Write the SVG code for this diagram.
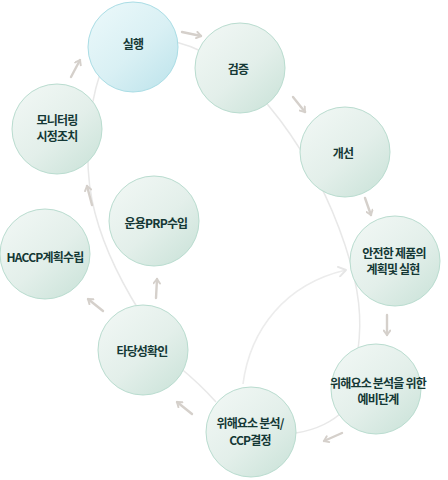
<svg xmlns="http://www.w3.org/2000/svg" width="448" height="480" viewBox="0 0 448 480">
<defs>
<linearGradient id="gg" x1="0.15" y1="0.1" x2="0.85" y2="0.9">
<stop offset="0" stop-color="#eff6f3"/>
<stop offset="0.55" stop-color="#e3efea"/>
<stop offset="1" stop-color="#cfe5dc"/>
</linearGradient>
<linearGradient id="gb" x1="0.15" y1="0.1" x2="0.85" y2="0.9">
<stop offset="0" stop-color="#e8f7f9"/>
<stop offset="0.55" stop-color="#d9f0f4"/>
<stop offset="1" stop-color="#c3e6ed"/>
</linearGradient>
<marker id="ah" viewBox="0 0 10 10" refX="8" refY="5" markerUnits="userSpaceOnUse" markerWidth="8" markerHeight="8" orient="auto">
<path d="M2.5,1 L8,5 L2.5,9" fill="none" stroke="#d5d0cb" stroke-width="2.4" stroke-linecap="round" stroke-linejoin="round"/>
</marker>
<marker id="ah2" viewBox="0 0 10 10" refX="8" refY="5" markerUnits="userSpaceOnUse" markerWidth="12" markerHeight="12" orient="auto">
<path d="M2,1 L8,5 L2,9" fill="none" stroke="#e6e6e6" stroke-width="1.6" stroke-linecap="round" stroke-linejoin="round"/>
</marker>
</defs>
<style>
.n circle{fill:url(#gg);stroke:#b9dccf;stroke-width:1}
.nb circle{fill:url(#gb);stroke:#aadde5;stroke-width:1}
text{font-family:"Noto Sans CJK KR","Noto Sans",sans-serif;font-weight:bold;font-size:12px;fill:#143835;text-anchor:middle;letter-spacing:-0.8px}
.ring{fill:none;stroke:#e8e8e8;stroke-width:1.5}
.ar{fill:none;stroke:#d5d0cb;stroke-width:2.4;stroke-linecap:round;marker-end:url(#ah)}
</style>
<rect width="448" height="480" fill="#ffffff"/>
<g id="connectors">
<path class="ring" d="M176,42 C215,52 250,80 280,120 S330,200 345,245 S362,320 358,350"/>
<path class="ring" d="M340,414 Q320,431 288,434"/>
<path class="ring" d="M100,74 C88,110 84,160 92,200 S120,280 140,312"/>
<path class="ring" d="M178,366 Q200,384 216,402"/>
<path d="M243,384 C250,330 285,284 346,270" fill="none" stroke="#ececec" stroke-width="1.6" marker-end="url(#ah2)"/>
<line class="ar" x1="71" y1="77" x2="80" y2="60"/>
<line class="ar" x1="182" y1="32" x2="201" y2="36"/>
<line class="ar" x1="293" y1="97" x2="305" y2="112"/>
<line class="ar" x1="365" y1="198" x2="371" y2="215"/>
<line class="ar" x1="387" y1="315" x2="387" y2="335"/>
<line class="ar" x1="342" y1="433" x2="324" y2="441"/>
<line class="ar" x1="192" y1="414" x2="177" y2="402"/>
<line class="ar" x1="103" y1="311" x2="88" y2="299"/>
<line class="ar" x1="156" y1="298" x2="157" y2="279"/>
<line class="ar" x1="92" y1="205" x2="87" y2="186"/>
</g>
<g id="n-silhaeng" class="nb"><circle cx="133" cy="47" r="45"/><text x="133" y="48.5">실행</text></g>
<g id="n-geomjeung" class="n"><circle cx="240" cy="68" r="45"/><text x="238" y="73.5">검증</text></g>
<g id="n-gaeseon" class="n"><circle cx="345" cy="152" r="45"/><text x="343" y="157.5">개선</text></g>
<g id="n-safe" class="n"><circle cx="395" cy="261" r="45"/><text x="394" y="258">안전한 제품의</text><text x="393" y="274">계획및 실현</text></g>
<g id="n-prelim" class="n"><circle cx="376" cy="389" r="45"/><text x="378" y="388">위해요소 분석을 위한</text><text x="378" y="404">예비단계</text></g>
<g id="n-ccp" class="n"><circle cx="251" cy="432" r="45"/><text x="250" y="427.5">위해요소 분석/</text><text x="250" y="444.5">CCP결정</text></g>
<g id="n-validate" class="n"><circle cx="143" cy="350" r="45"/><text x="142" y="355.5">타당성확인</text></g>
<g id="n-haccp" class="n"><circle cx="45" cy="254" r="45"/><text x="45" y="261.5">HACCP계획수립</text></g>
<g id="n-prp" class="n"><circle cx="154" cy="221" r="45"/><text x="156" y="227.5">운용PRP수입</text></g>
<g id="n-monitor" class="n"><circle cx="57" cy="129" r="45"/><text x="57" y="124.5">모니터링</text><text x="57" y="140.5">시정조치</text></g>
</svg>
